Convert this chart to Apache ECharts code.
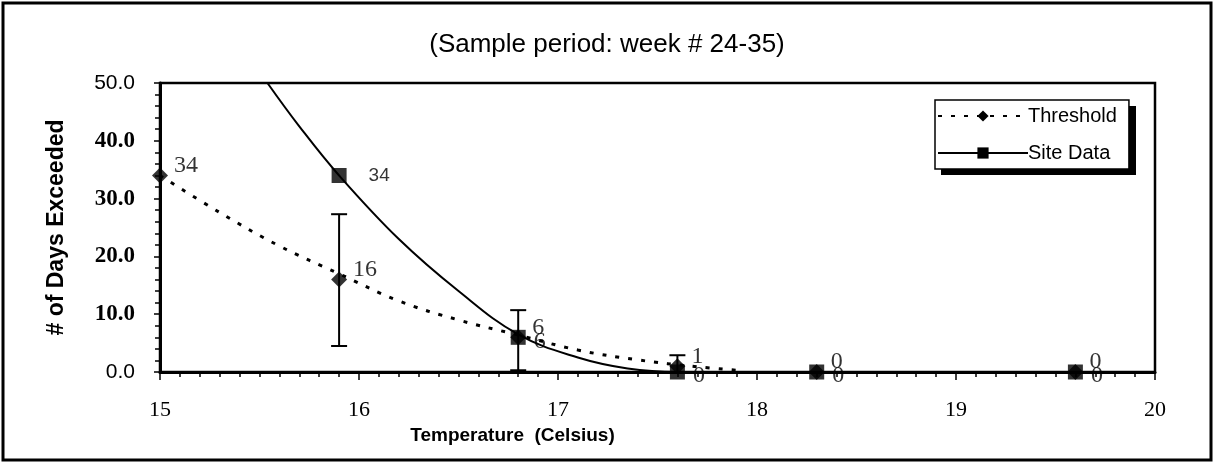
<!DOCTYPE html>
<html>
<head>
<meta charset="utf-8">
<script src="https://cdn.jsdelivr.net/npm/echarts@6/dist/echarts.min.js"></script>
<style>
  html, body { margin: 0; padding: 0; background: #fff; }
  #chart { width: 1214px; height: 463px; }
</style>
</head>
<body>
<div id="chart"></div>
<script>
// measured points
const thresholdTemp = [15, 15.9, 16.8, 17.6, 18.3, 19.6]
const thresholdDays = [34, 16, 6, 1, 0, 0]
const siteTemp = [15.9, 16.8, 17.6, 18.3, 19.6]
const siteDays = [34, 6, 0, 0, 0]

// error bars (low / high)
const errTemp = [15.9, 16.8, 17.6]
const errLow = [4.5, 0.3, 0]
const errHigh = [27.3, 10.7, 2.9]

// fitted trend curves
const thresholdCurveTemp = [15, 15.3, 15.6, 15.9, 16.2, 16.5, 16.8, 17.1, 17.4, 17.7, 17.9]
const thresholdCurveDays = [34, 27.6, 21.8, 17, 12.3, 9, 6.4, 3.8, 2.1, 0.9, 0.3]
const siteCurveTemp = [15.54, 15.7, 15.9, 16.2, 16.5, 16.8, 17.1, 17.35, 17.6, 20]
const siteCurveDays = [50, 42.5, 34, 23, 14, 6.5, 2.5, 0.6, 0, 0]

const xTicks = [15, 16, 17, 18, 19, 20]
const yTicks = [0, 10, 20, 30, 40, 50]

const zip = (a, b) => a.map((v, i) => [v, b[i]])

const chart = echarts.init(document.getElementById('chart'))

const option = {
  animation: false,
  backgroundColor: '#fff',
  title: {
    text: '(Sample period: week # 24-35)',
    left: 'center',
    top: 27,
    textStyle: { fontFamily: 'Liberation Sans', fontSize: 26, fontWeight: 'normal', color: '#000' }
  },
  graphic: [
    {
      type: 'rect',
      shape: { x: 3, y: 3, width: 1208, height: 457 },
      style: { fill: 'none', stroke: '#000', lineWidth: 3 },
      silent: true
    },
    {
      // legend drop shadow
      type: 'rect',
      shape: { x: 941, y: 106, width: 195, height: 69 },
      style: { fill: '#000' },
      z: 1,
      silent: true
    }
  ],
  legend: {
    left: 935,
    top: 100,
    orient: 'vertical',
    data: ['Threshold', 'Site Data'],
    itemWidth: 90,
    itemHeight: 14,
    itemGap: 17,
    padding: [6, 12, 6, 2],
    backgroundColor: '#fff',
    borderColor: '#000',
    borderWidth: 1.5,
    z: 10,
    textStyle: { fontFamily: 'Liberation Sans', fontSize: 20, color: '#000', padding: [0, 0, 0, -5] }
  },
  grid: {
    left: 160,
    right: 59,
    top: 83,
    bottom: 91,
    show: true,
    borderColor: '#000',
    borderWidth: 2.5
  },
  xAxis: {
    type: 'value',
    min: xTicks[0],
    max: xTicks[xTicks.length - 1],
    interval: 1,
    name: 'Temperature  (Celsius)',
    nameLocation: 'middle',
    nameGap: 47,
    nameTextStyle: {
      fontFamily: 'Liberation Sans', fontSize: 19, fontWeight: 'bold', color: '#000',
      padding: [0, 290, 0, 0]
    },
    axisLine: { lineStyle: { color: '#000', width: 3 } },
    axisTick: { length: 8, lineStyle: { color: '#000', width: 1.5 } },
    minorTick: { show: true, splitNumber: 10, length: 5, lineStyle: { color: '#000', width: 1.5 } },
    splitLine: { show: false },
    axisLabel: { margin: 27, fontFamily: 'Liberation Serif', fontSize: 22, color: '#000' }
  },
  yAxis: {
    type: 'value',
    min: yTicks[0],
    max: yTicks[yTicks.length - 1],
    interval: 10,
    name: '# of Days Exceeded',
    nameLocation: 'middle',
    nameGap: 92,
    nameRotate: 90,
    nameTextStyle: { fontFamily: 'Liberation Sans', fontSize: 23, fontWeight: 'bold', color: '#000' },
    axisLine: { lineStyle: { color: '#000', width: 3 } },
    axisTick: { length: 6, lineStyle: { color: '#000', width: 1.5 } },
    minorTick: { show: true, splitNumber: 5, length: 5, lineStyle: { color: '#000', width: 1.5 } },
    splitLine: { show: false },
    axisLabel: {
      margin: 25,
      formatter: v => (v === 0 || v === 50) ? '{s|' + v.toFixed(1) + '}' : '{b|' + v.toFixed(1) + '}',
      rich: {
        s: { fontFamily: 'Liberation Sans', fontSize: 21, color: '#000' },
        b: { fontFamily: 'Liberation Serif', fontSize: 23, fontWeight: 'bold', color: '#000' }
      }
    }
  },
  series: [
    {
      name: 'Threshold',
      type: 'line',
      smooth: 0.4,
      showSymbol: false,
      symbol: 'diamond',
      symbolSize: 14,
      itemStyle: { color: '#000' },
      lineStyle: { color: '#000', width: 3, type: [4, 9] },
      data: zip(thresholdCurveTemp, thresholdCurveDays),
      z: 2
    },
    {
      name: 'Site Data',
      type: 'line',
      smooth: 0.4,
      showSymbol: false,
      symbol: 'rect',
      symbolSize: 13,
      itemStyle: { color: '#000' },
      lineStyle: { color: '#000', width: 2 },
      data: zip(siteCurveTemp, siteCurveDays),
      z: 2
    },
    {
      type: 'custom',
      clip: false,
      renderItem: (params, api) => {
        const x = api.value(0)
        const lo = api.coord([x, api.value(1)])
        const hi = api.coord([x, api.value(2)])
        const w = 8
        const style = { stroke: '#000', lineWidth: 2 }
        return {
          type: 'group',
          children: [
            { type: 'line', shape: { x1: lo[0], y1: lo[1], x2: hi[0], y2: hi[1] }, style },
            { type: 'line', shape: { x1: hi[0] - w, y1: hi[1], x2: hi[0] + w, y2: hi[1] }, style },
            { type: 'line', shape: { x1: lo[0] - w, y1: lo[1], x2: lo[0] + w, y2: lo[1] }, style }
          ]
        }
      },
      data: errTemp.map((t, i) => [t, errLow[i], errHigh[i]]),
      z: 3
    },
    {
      name: 'Threshold points',
      type: 'scatter',
      symbol: 'diamond',
      symbolSize: 16,
      clip: false,
      itemStyle: { color: '#000' },
      label: {
        show: true,
        position: 'right',
        distance: 6,
        offset: [0, -10],
        formatter: p => String(p.value[1]),
        fontFamily: 'Liberation Serif',
        fontSize: 24,
        color: '#000'
      },
      data: zip(thresholdTemp, thresholdDays),
      z: 4
    },
    {
      name: 'Site points',
      type: 'scatter',
      symbol: 'rect',
      symbolSize: 15,
      clip: false,
      itemStyle: { color: '#000' },
      label: {
        show: true,
        position: 'right',
        distance: 8,
        offset: [0, 4],
        formatter: p => p.value[1] === 34 ? '{a|34}' : String(p.value[1]),
        fontFamily: 'Liberation Serif',
        fontSize: 24,
        color: '#000',
        rich: { a: { fontFamily: 'Liberation Sans', fontSize: 19, color: '#000', padding: [0, 0, 8, 14] } }
      },
      data: zip(siteTemp, siteDays),
      z: 4
    }
  ]
}

chart.setOption(option)
</script>
</body>
</html>
